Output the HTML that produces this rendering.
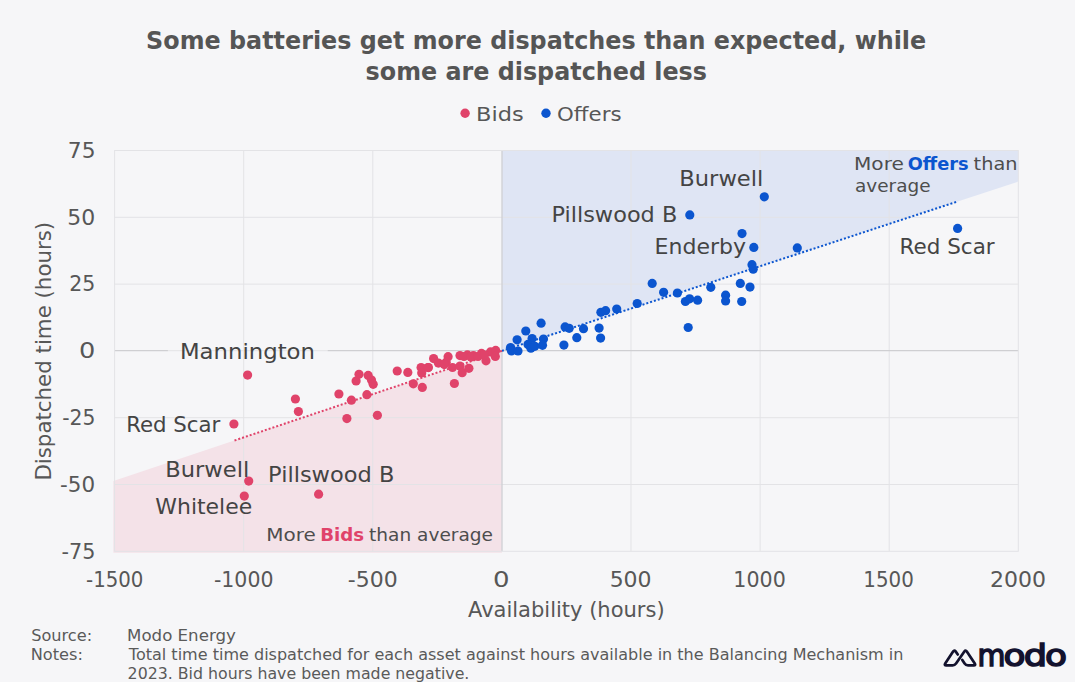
<!DOCTYPE html>
<html><head><meta charset="utf-8"><style>
html,body{margin:0;padding:0;background:#f6f6f8;overflow:hidden;}
svg{display:block;font-family:"DejaVu Sans","Liberation Sans",sans-serif;}
</style></head><body>
<svg width="1075" height="682" viewBox="0 0 1075 682">
<rect width="1075" height="682" fill="#f6f6f8"/>
<polygon points="501.9,150.5 1018.3,150.5 1018.3,181.57 501.9,350.9" fill="#dfe5f4"/>
<polygon points="113.4,552.8 501.9,552.8 501.9,350.9 113.4,481.05" fill="#f4e2e8"/>
<g stroke="#e3e3e6" stroke-width="1"><line x1="243.70" y1="150.5" x2="243.70" y2="551.3"/><line x1="372.80" y1="150.5" x2="372.80" y2="551.3"/><line x1="631.00" y1="150.5" x2="631.00" y2="551.3"/><line x1="760.10" y1="150.5" x2="760.10" y2="551.3"/><line x1="889.20" y1="150.5" x2="889.20" y2="551.3"/><line x1="114.6" y1="217.30" x2="1018.3" y2="217.30"/><line x1="114.6" y1="284.10" x2="1018.3" y2="284.10"/><line x1="114.6" y1="417.70" x2="1018.3" y2="417.70"/><line x1="114.6" y1="484.50" x2="1018.3" y2="484.50"/></g>
<line x1="167.9" y1="350.7" x2="327.6" y2="350.7" stroke="#e3e3e6" stroke-width="1"/><line x1="114.6" y1="350.7" x2="167.9" y2="350.7" stroke="#cfcfd2" stroke-width="1.3"/><line x1="327.6" y1="350.7" x2="1018.3" y2="350.7" stroke="#cfcfd2" stroke-width="1.3"/>
<line x1="502.0" y1="150.5" x2="502.0" y2="551.3" stroke="#d0d0d4" stroke-width="1.3"/>
<rect x="114.6" y="150.5" width="903.6999999999999" height="400.79999999999995" fill="none" stroke="#e3e3e6" stroke-width="1"/>
<line x1="501.9" y1="350.9" x2="958" y2="201.34" stroke="#0b55cf" stroke-width="2" stroke-dasharray="2 2"/>
<line x1="501.9" y1="350.9" x2="233" y2="440.98" stroke="#e0436a" stroke-width="2" stroke-dasharray="2 2"/>
<circle cx="541.1" cy="323.2" r="4.6" fill="#0b55cf"/><circle cx="525.8" cy="331.0" r="4.6" fill="#0b55cf"/><circle cx="517.1" cy="339.8" r="4.6" fill="#0b55cf"/><circle cx="510.5" cy="347.5" r="4.6" fill="#0b55cf"/><circle cx="511.5" cy="351" r="4.6" fill="#0b55cf"/><circle cx="518" cy="351" r="4.6" fill="#0b55cf"/><circle cx="532.1" cy="338.5" r="4.6" fill="#0b55cf"/><circle cx="528" cy="344.4" r="4.6" fill="#0b55cf"/><circle cx="530.9" cy="348.2" r="4.6" fill="#0b55cf"/><circle cx="534.8" cy="346.3" r="4.6" fill="#0b55cf"/><circle cx="543.5" cy="339" r="4.6" fill="#0b55cf"/><circle cx="542.5" cy="345.3" r="4.6" fill="#0b55cf"/><circle cx="565.1" cy="326.9" r="4.6" fill="#0b55cf"/><circle cx="569.2" cy="328.3" r="4.6" fill="#0b55cf"/><circle cx="563.9" cy="345.1" r="4.6" fill="#0b55cf"/><circle cx="576.8" cy="337.7" r="4.6" fill="#0b55cf"/><circle cx="583.5" cy="328.7" r="4.6" fill="#0b55cf"/><circle cx="599.1" cy="328.1" r="4.6" fill="#0b55cf"/><circle cx="600.6" cy="338.1" r="4.6" fill="#0b55cf"/><circle cx="600.9" cy="312.3" r="4.6" fill="#0b55cf"/><circle cx="605.6" cy="310.7" r="4.6" fill="#0b55cf"/><circle cx="616.7" cy="309.1" r="4.6" fill="#0b55cf"/><circle cx="637.2" cy="303.5" r="4.6" fill="#0b55cf"/><circle cx="652.2" cy="283.4" r="4.6" fill="#0b55cf"/><circle cx="663.6" cy="292.3" r="4.6" fill="#0b55cf"/><circle cx="677.4" cy="293.0" r="4.6" fill="#0b55cf"/><circle cx="685.4" cy="301.5" r="4.6" fill="#0b55cf"/><circle cx="689.6" cy="298.8" r="4.6" fill="#0b55cf"/><circle cx="697.6" cy="300.2" r="4.6" fill="#0b55cf"/><circle cx="688.2" cy="327.5" r="4.6" fill="#0b55cf"/><circle cx="710.8" cy="287.3" r="4.6" fill="#0b55cf"/><circle cx="725.6" cy="295.2" r="4.6" fill="#0b55cf"/><circle cx="725.6" cy="301.0" r="4.6" fill="#0b55cf"/><circle cx="740.3" cy="283.4" r="4.6" fill="#0b55cf"/><circle cx="750.0" cy="287.1" r="4.6" fill="#0b55cf"/><circle cx="741.7" cy="301.5" r="4.6" fill="#0b55cf"/><circle cx="752.0" cy="264.7" r="4.6" fill="#0b55cf"/><circle cx="753.2" cy="269.2" r="4.6" fill="#0b55cf"/><circle cx="764.3" cy="196.8" r="4.6" fill="#0b55cf"/><circle cx="689.8" cy="214.9" r="4.6" fill="#0b55cf"/><circle cx="742.0" cy="233.6" r="4.6" fill="#0b55cf"/><circle cx="753.8" cy="247.4" r="4.6" fill="#0b55cf"/><circle cx="797.3" cy="247.9" r="4.6" fill="#0b55cf"/><circle cx="957.6" cy="228.4" r="4.6" fill="#0b55cf"/><circle cx="247.6" cy="375.1" r="4.6" fill="#e0436a"/><circle cx="233.9" cy="424.0" r="4.6" fill="#e0436a"/><circle cx="295.4" cy="399.0" r="4.6" fill="#e0436a"/><circle cx="298.4" cy="411.6" r="4.6" fill="#e0436a"/><circle cx="338.9" cy="394.0" r="4.6" fill="#e0436a"/><circle cx="346.9" cy="418.6" r="4.6" fill="#e0436a"/><circle cx="351.4" cy="400.2" r="4.6" fill="#e0436a"/><circle cx="356.1" cy="381.0" r="4.6" fill="#e0436a"/><circle cx="359.0" cy="374.3" r="4.6" fill="#e0436a"/><circle cx="368.2" cy="375.4" r="4.6" fill="#e0436a"/><circle cx="371.5" cy="380.1" r="4.6" fill="#e0436a"/><circle cx="373.2" cy="384.3" r="4.6" fill="#e0436a"/><circle cx="366.9" cy="394.7" r="4.6" fill="#e0436a"/><circle cx="377.4" cy="415.3" r="4.6" fill="#e0436a"/><circle cx="397.2" cy="371.0" r="4.6" fill="#e0436a"/><circle cx="407.8" cy="372.4" r="4.6" fill="#e0436a"/><circle cx="413.3" cy="383.8" r="4.6" fill="#e0436a"/><circle cx="422.3" cy="387.4" r="4.6" fill="#e0436a"/><circle cx="421.1" cy="367.6" r="4.6" fill="#e0436a"/><circle cx="428.4" cy="367.6" r="4.6" fill="#e0436a"/><circle cx="421.7" cy="372.9" r="4.6" fill="#e0436a"/><circle cx="428" cy="367.5" r="4.6" fill="#e0436a"/><circle cx="433.6" cy="358.6" r="4.6" fill="#e0436a"/><circle cx="438.4" cy="363.1" r="4.6" fill="#e0436a"/><circle cx="448.1" cy="356.7" r="4.6" fill="#e0436a"/><circle cx="446.2" cy="362.3" r="4.6" fill="#e0436a"/><circle cx="444.3" cy="364.6" r="4.6" fill="#e0436a"/><circle cx="452.5" cy="367.5" r="4.6" fill="#e0436a"/><circle cx="460.0" cy="366.0" r="4.6" fill="#e0436a"/><circle cx="462.2" cy="372.7" r="4.6" fill="#e0436a"/><circle cx="468.9" cy="368.3" r="4.6" fill="#e0436a"/><circle cx="460.0" cy="355.6" r="4.6" fill="#e0436a"/><circle cx="467.4" cy="354.9" r="4.6" fill="#e0436a"/><circle cx="473.4" cy="355.6" r="4.6" fill="#e0436a"/><circle cx="481.5" cy="353.4" r="4.6" fill="#e0436a"/><circle cx="486.0" cy="360.8" r="4.6" fill="#e0436a"/><circle cx="490.5" cy="351.9" r="4.6" fill="#e0436a"/><circle cx="495.7" cy="350.4" r="4.6" fill="#e0436a"/><circle cx="495.3" cy="356.4" r="4.6" fill="#e0436a"/><circle cx="454.4" cy="383.5" r="4.6" fill="#e0436a"/><circle cx="464.0" cy="356.5" r="4.6" fill="#e0436a"/><circle cx="471.0" cy="357.0" r="4.6" fill="#e0436a"/><circle cx="478.0" cy="356.5" r="4.6" fill="#e0436a"/><circle cx="484.5" cy="355.0" r="4.6" fill="#e0436a"/><circle cx="248.7" cy="481.1" r="4.6" fill="#e0436a"/><circle cx="244.3" cy="496.1" r="4.6" fill="#e0436a"/><circle cx="318.6" cy="494.2" r="4.6" fill="#e0436a"/>
<circle cx="465.1" cy="113.3" r="4.7" fill="#e0436a"/>
<circle cx="546.0" cy="113.3" r="4.7" fill="#0b55cf"/>
<text transform="translate(146.11 49.00) scale(0.9629 1)" font-size="24.78" font-weight="bold" fill="#555555">Some batteries get more dispatches than expected, while</text><text transform="translate(365.58 79.80) scale(0.9624 1)" font-size="24.78" font-weight="bold" fill="#555555">some are dispatched less</text><text transform="translate(475.99 120.50) scale(1.1075 1)" font-size="20.29" font-weight="normal" fill="#575757">Bids</text><text transform="translate(557.10 120.50) scale(1.0511 1)" font-size="20.29" font-weight="normal" fill="#575757">Offers</text><text transform="translate(67.80 158.00) scale(1.0660 1)" font-size="20.43" font-weight="normal" fill="#575757">75</text><text transform="translate(67.23 225.00) scale(1.0753 1)" font-size="20.43" font-weight="normal" fill="#575757">50</text><text transform="translate(69.32 291.00) scale(1.0040 1)" font-size="20.43" font-weight="normal" fill="#575757">25</text><text transform="translate(79.10 358.00) scale(1.2533 1)" font-size="20.43" font-weight="normal" fill="#575757">0</text><text transform="translate(62.15 425.00) scale(0.9968 1)" font-size="20.43" font-weight="normal" fill="#575757">-25</text><text transform="translate(60.09 492.00) scale(1.0507 1)" font-size="20.43" font-weight="normal" fill="#575757">-50</text><text transform="translate(61.53 559.00) scale(1.0163 1)" font-size="20.43" font-weight="normal" fill="#575757">-75</text><text transform="translate(86.07 587.00) scale(0.9667 1)" font-size="20.43" font-weight="normal" fill="#575757">-1500</text><text transform="translate(213.94 587.00) scale(1.0034 1)" font-size="20.43" font-weight="normal" fill="#575757">-1000</text><text transform="translate(347.77 587.00) scale(1.0766 1)" font-size="20.43" font-weight="normal" fill="#575757">-500</text><text transform="translate(492.98 587.00) scale(1.2723 1)" font-size="20.43" font-weight="normal" fill="#575757">0</text><text transform="translate(609.63 587.00) scale(1.0760 1)" font-size="20.43" font-weight="normal" fill="#575757">500</text><text transform="translate(733.35 587.00) scale(1.0091 1)" font-size="20.43" font-weight="normal" fill="#575757">1000</text><text transform="translate(863.33 587.00) scale(0.9720 1)" font-size="20.43" font-weight="normal" fill="#575757">1500</text><text transform="translate(990.03 587.00) scale(1.0764 1)" font-size="20.43" font-weight="normal" fill="#575757">2000</text><text transform="translate(468.00 616.80) scale(1.0093 1)" font-size="20.83" font-weight="normal" fill="#575757">Availability (hours)</text><text transform="translate(679.28 185.90) scale(1.1064 1)" font-size="20.43" font-weight="normal" fill="#444444">Burwell</text><text transform="translate(551.50 222.00) scale(1.0973 1)" font-size="20.43" font-weight="normal" fill="#444444">Pillswood B</text><text transform="translate(654.53 253.90) scale(1.0787 1)" font-size="20.43" font-weight="normal" fill="#444444">Enderby</text><text transform="translate(899.59 253.90) scale(1.0517 1)" font-size="20.43" font-weight="normal" fill="#444444">Red Scar</text><text transform="translate(179.96 359.00) scale(1.1156 1)" font-size="20.43" font-weight="normal" fill="#444444">Mannington</text><text transform="translate(126.21 432.30) scale(1.0416 1)" font-size="20.43" font-weight="normal" fill="#444444">Red Scar</text><text transform="translate(165.28 477.20) scale(1.1050 1)" font-size="20.43" font-weight="normal" fill="#444444">Burwell</text><text transform="translate(155.31 513.80) scale(1.0748 1)" font-size="20.43" font-weight="normal" fill="#444444">Whitelee</text><text transform="translate(268.09 481.60) scale(1.1009 1)" font-size="20.43" font-weight="normal" fill="#444444">Pillswood B</text><text transform="translate(266.23 540.60) scale(1.1373 1)" font-size="17.57" font-weight="normal" fill="#4d4d4d">More</text><text transform="translate(320.18 540.60) scale(1.0348 1)" font-size="17.57" font-weight="bold" fill="#e0436a">Bids</text><text transform="translate(369.01 540.60) scale(1.0567 1)" font-size="17.57" font-weight="normal" fill="#4d4d4d">than average</text><text transform="translate(854.01 169.80) scale(1.1447 1)" font-size="17.57" font-weight="normal" fill="#4d4d4d">More</text><text transform="translate(907.77 169.80) scale(1.0120 1)" font-size="17.57" font-weight="bold" fill="#0b55cf">Offers</text><text transform="translate(973.60 169.80) scale(1.0992 1)" font-size="17.57" font-weight="normal" fill="#4d4d4d">than</text><text transform="translate(855.04 191.90) scale(1.0504 1)" font-size="17.57" font-weight="normal" fill="#4d4d4d">average</text><text transform="translate(31.19 641.00) scale(1.0414 1)" font-size="15.52" font-weight="normal" fill="#5a5a5a">Source:</text><text transform="translate(127.04 641.00) scale(1.0731 1)" font-size="15.52" font-weight="normal" fill="#5a5a5a">Modo Energy</text><text transform="translate(30.68 659.90) scale(1.0443 1)" font-size="15.52" font-weight="normal" fill="#5a5a5a">Notes:</text><text transform="translate(128.85 659.90) scale(1.0337 1)" font-size="15.52" font-weight="normal" fill="#5a5a5a">Total time time dispatched for each asset against hours available in the Balancing Mechanism in</text><text transform="translate(127.61 678.90) scale(1.0178 1)" font-size="15.52" font-weight="normal" fill="#5a5a5a">2023. Bid hours have been made negative.</text>
<text transform="translate(50.8 480.60) rotate(-90) scale(1.0248 1)" font-size="20.83" fill="#575757">Dispatched time (hours)</text>
<g transform="translate(940 645)" fill="none" stroke="#13122e" stroke-width="2.7" stroke-linejoin="round" stroke-linecap="round">
<path d="M17.80,9.50 L15.58,6.39 Q14.30,4.60 13.10,6.44 L5.20,18.56 Q4.00,20.40 6.20,20.40 L12.60,20.40 Q14.80,20.40 16.04,18.58 L24.36,6.42 Q25.60,4.60 26.81,6.44 L34.79,18.56 Q36.00,20.40 33.80,20.40 L28.00,20.40 Q25.80,20.40 24.62,18.54 L22.30,14.90"/>
</g>
<text transform="translate(977.46 666.4) scale(0.9312 1)" font-size="30.8" font-weight="normal" fill="#13122e" stroke="#13122e" stroke-width="1.5" font-family="DejaVu Sans, sans-serif">m</text><text transform="translate(1003.39 666.4) scale(1.1679 1)" font-size="30.8" font-weight="normal" fill="#13122e" stroke="#13122e" stroke-width="1.5" font-family="DejaVu Sans, sans-serif">o</text><text transform="translate(1023.77 666.4) scale(1.1953 1)" font-size="30.8" font-weight="normal" fill="#13122e" stroke="#13122e" stroke-width="1.5" font-family="DejaVu Sans, sans-serif">d</text><text transform="translate(1044.89 666.4) scale(1.1679 1)" font-size="30.8" font-weight="normal" fill="#13122e" stroke="#13122e" stroke-width="1.5" font-family="DejaVu Sans, sans-serif">o</text>
</svg>
</body></html>
